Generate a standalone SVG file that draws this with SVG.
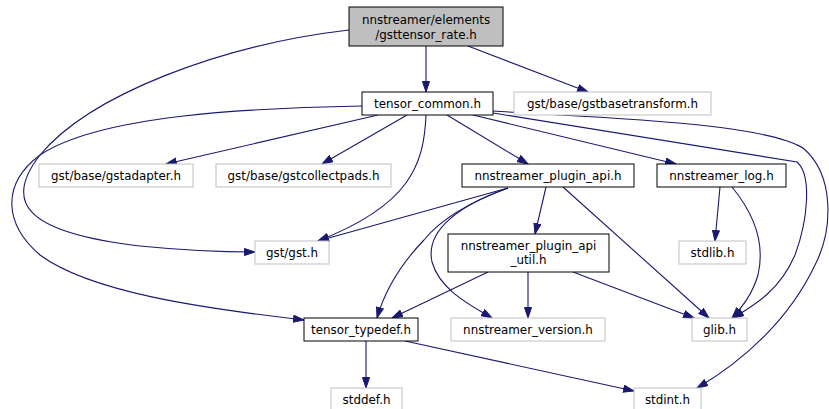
<svg xmlns="http://www.w3.org/2000/svg" width="829" height="409" viewBox="0 0 829 409">
<defs>
<marker id="arr" markerUnits="userSpaceOnUse" markerWidth="12" markerHeight="9" refX="11" refY="4" orient="auto">
<path d="M0.5,0.5 L11,4 L0.5,7.5 z" fill="#191970" stroke="#191970" stroke-width="1"/>
</marker>
</defs>
<style>
text{font-family:"DejaVu Sans",sans-serif;font-size:11.9px;fill:#000;text-anchor:middle}
.b{fill:#fff;stroke:#000;stroke-width:1}
.g{fill:#fff;stroke:#bfbfbf;stroke-width:1}
.c{fill:#bfbfbf;stroke:#000;stroke-width:1}
#edges path{fill:none;stroke:#191970;stroke-width:1.1;marker-end:url(#arr)}
</style>
<rect width="829" height="409" fill="#fff"/>
<g id="edges">
<path d="M426,46 L426,92"/>
<path d="M468,46 L588,92"/>
<path d="M349,30 C220,45 90,95 40,155 C5,200 20,232 140,246 C180,250 215,252 255,252"/>
<path d="M378,115 L166,164"/>
<path d="M407,115 L322,164"/>
<path d="M426,115 C424,165 410,205 318,241"/>
<path d="M447,115 L528,164"/>
<path d="M473,115 L676,164"/>
<path d="M493,113 L797,162 C812,175 808,220 795,255 C780,290 755,305 733,318"/>
<path d="M493,111 C600,118 760,122 803,148 C835,175 833,230 815,265 C790,318 745,360 697,388"/>
<path d="M362,106 C250,108 100,115 40,155 C0,185 5,225 40,255 C90,292 200,308 304,320"/>
<path d="M508,188 L318,241"/>
<path d="M508,188 C470,202 440,220 424,240 C400,265 385,290 377,318"/>
<path d="M508,188 C460,205 425,230 432,262 C440,290 470,305 492,318"/>
<path d="M546,187 L535,234"/>
<path d="M563,187 L709,318"/>
<path d="M720,187 L715,241"/>
<path d="M732,187 C755,215 765,245 758,275 C752,295 742,307 732,318"/>
<path d="M488,272 L392,318"/>
<path d="M528,272 L528,318"/>
<path d="M573,272 L694,318"/>
<path d="M366,341 L366,388"/>
<path d="M405,341 L634,391"/>
</g>
<g id="rate"><rect class="c" x="349" y="7" width="154" height="39"/><text x="426" y="24">nnstreamer/elements</text><text x="426" y="39">/gsttensor_rate.h</text></g>
<g id="tensor_common"><rect class="b" x="362" y="92" width="131" height="23"/><text x="427.5" y="108">tensor_common.h</text></g>
<g id="gstbasetransform"><rect class="g" x="514" y="92" width="197" height="23"/><text x="612.5" y="108">gst/base/gstbasetransform.h</text></g>
<g id="gstadapter"><rect class="g" x="39" y="164" width="154" height="23"/><text x="116" y="180">gst/base/gstadapter.h</text></g>
<g id="gstcollectpads"><rect class="g" x="216" y="164" width="175" height="23"/><text x="303.5" y="180">gst/base/gstcollectpads.h</text></g>
<g id="gst"><rect class="g" x="255" y="241" width="74" height="23"/><text x="292" y="257">gst/gst.h</text></g>
<g id="plugin_api"><rect class="b" x="462" y="164" width="172" height="23"/><text x="548" y="180">nnstreamer_plugin_api.h</text></g>
<g id="log"><rect class="b" x="657" y="164" width="129" height="23"/><text x="721.5" y="180">nnstreamer_log.h</text></g>
<g id="stdlib"><rect class="g" x="679" y="241" width="67" height="23"/><text x="712.5" y="257">stdlib.h</text></g>
<g id="plugin_api_util"><rect class="b" x="448" y="234" width="161" height="38"/><text x="528.5" y="250">nnstreamer_plugin_api</text><text x="528.5" y="264">_util.h</text></g>
<g id="tensor_typedef"><rect class="b" x="304" y="318" width="114" height="23"/><text x="361" y="334">tensor_typedef.h</text></g>
<g id="version"><rect class="g" x="451" y="318" width="154" height="23"/><text x="528" y="334">nnstreamer_version.h</text></g>
<g id="glib"><rect class="g" x="692" y="318" width="55" height="23"/><text x="719.5" y="334">glib.h</text></g>
<g id="stddef"><rect class="g" x="331" y="388" width="71" height="22"/><text x="366.5" y="404">stddef.h</text></g>
<g id="stdint"><rect class="g" x="634" y="388" width="67" height="22"/><text x="667.5" y="404">stdint.h</text></g>
</svg>
